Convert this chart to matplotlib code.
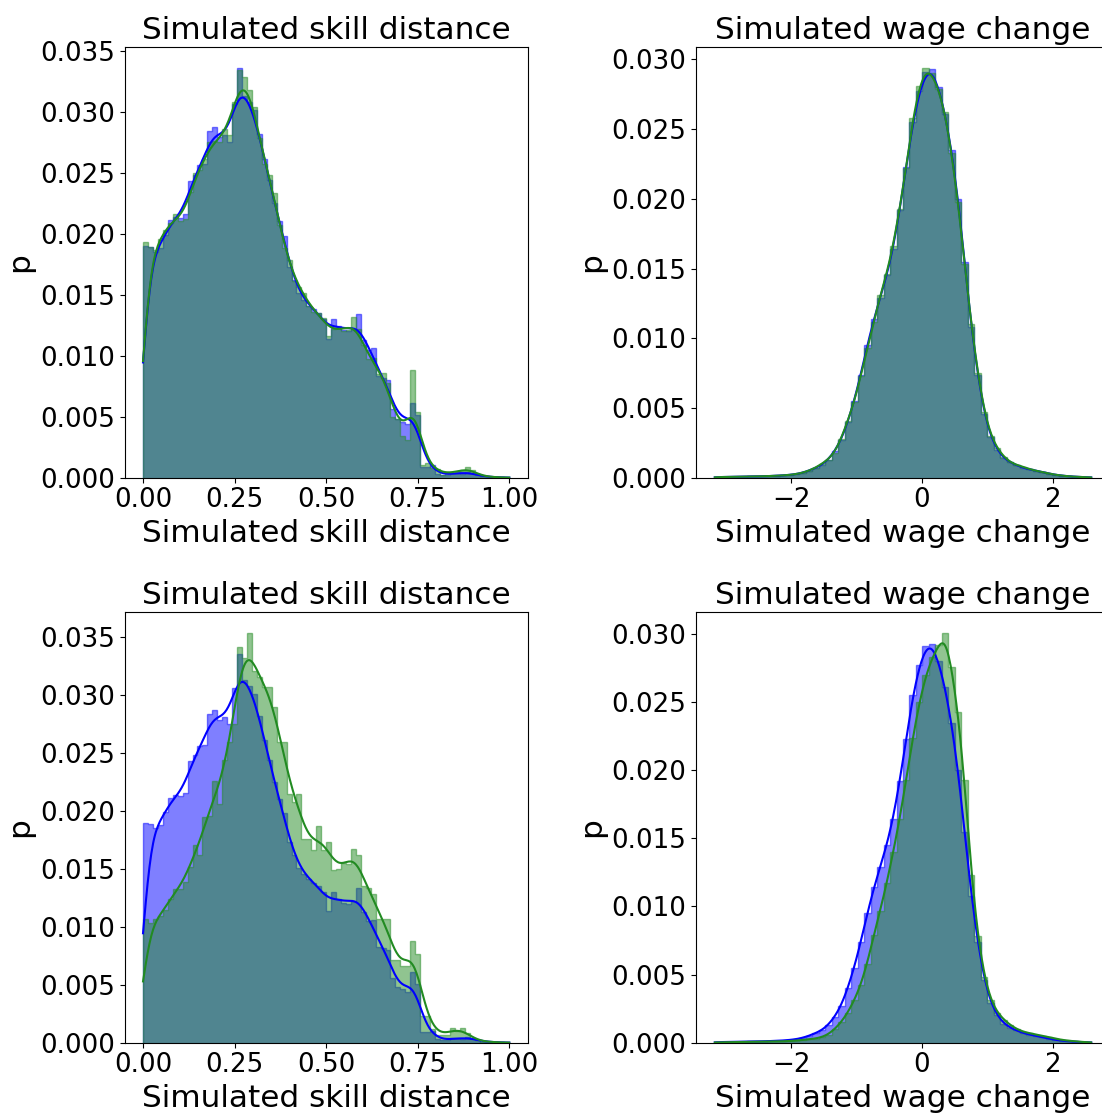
import numpy as np
import matplotlib
matplotlib.use('Agg')
import matplotlib.pyplot as plt

# probability per bin
skill_edges = np.linspace(0.0, 1.0, 75)
skill_blue = [
    0.0190, 0.0189, 0.0185, 0.0188, 0.0199, 0.0211, 0.0214, 0.0213, 0.0216, 0.0243,
    0.0248, 0.0256, 0.0257, 0.0284, 0.0287, 0.0279, 0.0281, 0.0275, 0.0306, 0.0336,
    0.0313, 0.0308, 0.0301, 0.0282, 0.0261, 0.0244, 0.0225, 0.0210, 0.0198, 0.0173,
    0.0162, 0.0151, 0.0146, 0.0141, 0.0138, 0.0135, 0.0130, 0.0114, 0.0130, 0.0124,
    0.0121, 0.0120, 0.0122, 0.0134, 0.0113, 0.0105, 0.0106, 0.0083, 0.0082, 0.0080,
    0.0056, 0.0048, 0.0046, 0.0044, 0.0061, 0.0051, 0.0009, 0.0009, 0.0010, 0.0003,
    0.0002, 0.0002, 0.0004, 0.0004, 0.0003, 0.0005, 0.0004, 0.0002, 0.0001, 0.0001,
    0.00005, 0.00003, 0.00002, 0.00001]
skill_green_top = [
    0.0193, 0.0189, 0.0187, 0.0196, 0.0203, 0.0209, 0.0216, 0.0210, 0.0212, 0.0234,
    0.0250, 0.0252, 0.0261, 0.0275, 0.0276, 0.0275, 0.0286, 0.0281, 0.0308, 0.0334,
    0.0328, 0.0318, 0.0304, 0.0278, 0.0257, 0.0248, 0.0233, 0.0207, 0.0188, 0.0178,
    0.0161, 0.0156, 0.0151, 0.0141, 0.0136, 0.0135, 0.0131, 0.0116, 0.0122, 0.0123,
    0.0120, 0.0121, 0.0132, 0.0122, 0.0109, 0.0097, 0.0098, 0.0085, 0.0086, 0.0078,
    0.0050, 0.0048, 0.0034, 0.0031, 0.0088, 0.0054, 0.0010, 0.0012, 0.0008, 0.0007,
    0.0002, 0.0004, 0.0004, 0.0005, 0.0006, 0.0009, 0.0006, 0.0003, 0.0001, 0.0001,
    0.00005, 0.00003, 0.00002, 0.00001]
skill_green_bottom = [
    0.0107, 0.0103, 0.0107, 0.0109, 0.0115, 0.0124, 0.0133, 0.0133, 0.0139, 0.0152,
    0.0171, 0.0162, 0.0195, 0.0196, 0.0226, 0.0206, 0.0244, 0.0260, 0.0275, 0.0342,
    0.0332, 0.0354, 0.0321, 0.0316, 0.0307, 0.0307, 0.0290, 0.0260, 0.0260, 0.0215,
    0.0208, 0.0215, 0.0176, 0.0176, 0.0166, 0.0187, 0.0166, 0.0173, 0.0149, 0.0150,
    0.0155, 0.0154, 0.0167, 0.0162, 0.0135, 0.0134, 0.0128, 0.0107, 0.0107, 0.0107,
    0.0071, 0.0071, 0.0066, 0.0066, 0.0088, 0.0077, 0.0023, 0.0023, 0.0012, 0.0007,
    0.0007, 0.0007, 0.0013, 0.0010, 0.0013, 0.0008, 0.0004, 0.0002, 0.0001, 0.0001,
    0.00005, 0.00003, 0.00002, 0.00001]

wage_edges = np.linspace(-3.17, 2.59, 59)
wage_blue = [
    0.00005, 0.00005, 0.00006, 0.00007, 0.00008, 0.0001, 0.0001, 0.0001, 0.00012, 0.00014,
    0.00016, 0.0002, 0.00025, 0.00035, 0.0005, 0.0007, 0.0009, 0.0013, 0.0019, 0.0027,
    0.0040, 0.0055, 0.0074, 0.0095, 0.0114, 0.0129, 0.0145, 0.0164, 0.0192, 0.0223,
    0.0255, 0.0277, 0.0291, 0.0293, 0.0280, 0.0261, 0.0235, 0.0200, 0.0155, 0.0108,
    0.0074, 0.0046, 0.0029, 0.0020, 0.0014, 0.0011, 0.0009, 0.0007, 0.0006, 0.0005,
    0.0004, 0.0003, 0.0002, 0.00015, 0.0001, 0.00007, 0.00005, 0.00003]
wage_green_top = [
    0.00005, 0.00005, 0.00006, 0.00007, 0.00008, 0.0001, 0.0001, 0.0001, 0.00012, 0.00014,
    0.00016, 0.0002, 0.00025, 0.00035, 0.0005, 0.0007, 0.0010, 0.0013, 0.0018, 0.0028,
    0.0041, 0.0054, 0.0073, 0.0093, 0.0112, 0.0131, 0.0146, 0.0166, 0.0193, 0.0222,
    0.0258, 0.0281, 0.0294, 0.0290, 0.0279, 0.0262, 0.0233, 0.0198, 0.0153, 0.0110,
    0.0075, 0.0047, 0.0030, 0.0021, 0.0015, 0.0011, 0.0009, 0.0008, 0.0006, 0.0005,
    0.0004, 0.0003, 0.0002, 0.00015, 0.0001, 0.00007, 0.00005, 0.00003]
wage_green_bottom = [
    0.00003, 0.00003, 0.00004, 0.00005, 0.00005, 0.00006, 0.00007, 0.00008, 0.00009, 0.0001,
    0.0001, 0.00012, 0.00015, 0.0002, 0.00025, 0.0003, 0.0004, 0.0006, 0.0010, 0.0015,
    0.0022, 0.0031, 0.0042, 0.0058, 0.0079, 0.0097, 0.0117, 0.0140, 0.0164, 0.0193,
    0.0224, 0.0250, 0.0270, 0.0283, 0.0292, 0.0301, 0.0276, 0.0243, 0.0193, 0.0123,
    0.0078, 0.0048, 0.0031, 0.0022, 0.0017, 0.0013, 0.0010, 0.0008, 0.0007, 0.0006,
    0.0005, 0.0004, 0.0003, 0.0002, 0.00015, 0.0001, 0.00006, 0.00003]

BLUE = 'blue'
GREEN = 'forestgreen'

plt.rcParams['font.size'] = 22.4
plt.rcParams['axes.titlesize'] = 22.4
plt.rcParams['xtick.labelsize'] = 18.8
plt.rcParams['ytick.labelsize'] = 18.8


# gaussian smoothing of the binned values, stands in for the kde line
def smooth(edges, heights, bw, n=400):
    centers = (edges[:-1] + edges[1:]) / 2
    w = np.diff(edges)
    grid = np.linspace(edges[0], edges[-1], n)
    z = (grid[:, None] - centers[None, :]) / bw
    k = np.exp(-0.5 * z ** 2) / (bw * np.sqrt(2 * np.pi))
    return grid, (k * np.asarray(heights) * w).sum(axis=1)


def panel(ax, edges, blue, green, bw, name):
    for h, c in [(blue, BLUE), (green, GREEN)]:
        ax.stairs(h, edges, fill=True, facecolor=c, edgecolor=c,
                  alpha=0.5, linewidth=1)
    for h, c in [(blue, BLUE), (green, GREEN)]:
        gx, gy = smooth(edges, h, bw)
        ax.plot(gx, gy, color=c, linewidth=1.5, zorder=3)
    ax.set_title(name)
    ax.set_xlabel(name)
    ax.set_ylabel('p')


fig = plt.figure(figsize=(11.02, 11.13), dpi=100)
W, H = 1102.0, 1113.0
h = 430.5 / H
ax1 = fig.add_axes([124.7 / W, 1 - 477.7 / H, 402.9 / W, h])
ax2 = fig.add_axes([696 / W, 1 - 477.7 / H, 414 / W, h])
ax3 = fig.add_axes([124.7 / W, 1 - 1042.7 / H, 402.9 / W, h])
ax4 = fig.add_axes([696 / W, 1 - 1042.7 / H, 414 / W, h])

panel(ax1, skill_edges, skill_blue, skill_green_top, 0.021, 'Simulated skill distance')
panel(ax2, wage_edges, wage_blue, wage_green_top, 0.08, 'Simulated wage change')
panel(ax3, skill_edges, skill_blue, skill_green_bottom, 0.021, 'Simulated skill distance')
panel(ax4, wage_edges, wage_blue, wage_green_bottom, 0.08, 'Simulated wage change')

fig.savefig('out.png', dpi=100)
